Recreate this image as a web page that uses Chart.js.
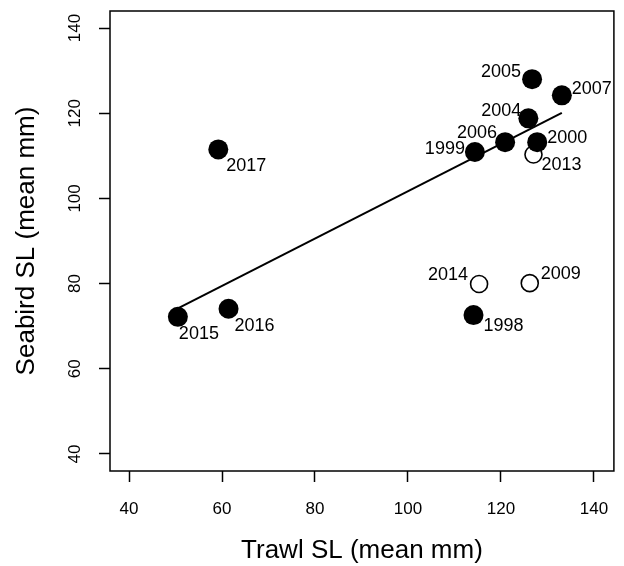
<!DOCTYPE html>
<html>
<head>
<meta charset="utf-8">
<script src="https://cdn.jsdelivr.net/npm/chart.js@4"></script>
<style>
  html, body { margin: 0; padding: 0; background: #fff; }
  #wrap { width: 624px; height: 566px; }
</style>
</head>
<body>
<div id="wrap"><canvas id="scatterChart" width="624" height="566"></canvas></div>
<script>
// years with filled symbols
const solidYears = ["1998", "1999", "2000", "2004", "2005", "2006", "2007", "2015", "2016", "2017"];
const solidTrawl = [114.1, 114.4, 127.8, 125.9, 126.7, 120.9, 133.1, 50.5, 61.4, 59.2];
const solidSeabird = [72.6, 110.9, 113.2, 118.8, 128.0, 113.2, 124.2, 72.2, 74.1, 111.5];

// years with open symbols
const openYears = ["2009", "2013", "2014"];
const openTrawl = [126.2, 127.0, 115.3];
const openSeabird = [80.1, 110.3, 79.9];

// fitted line end points
const fitTrawl = [50.5, 133.1];
const fitSeabird = [74.2, 120.1];

const xTicks = [40, 60, 80, 100, 120, 140];
const yTicks = [40, 60, 80, 100, 120, 140];

// label placement next to each point: [dx, dy, align]
const labelPos = {
  "1998": [10, 11, "left"],
  "1999": [-10, -3, "right"],
  "2000": [10, -4, "left"],
  "2004": [-7, -7, "right"],
  "2005": [-11, -7, "right"],
  "2006": [-8, -9, "right"],
  "2007": [10, -6, "left"],
  "2009": [11, -9, "left"],
  "2013": [8, 10, "left"],
  "2014": [-11, -9, "right"],
  "2015": [1, 17, "left"],
  "2016": [6, 17, "left"],
  "2017": [8, 17, "left"]
};

const FONT = "Liberation Sans, Arial, sans-serif";

function toPoints(xs, ys) {
  return xs.map((x, i) => ({ x: x, y: ys[i] }));
}

const boxPlugin = {
  id: "box",
  afterDraw(chart) {
    const { ctx, chartArea } = chart;
    ctx.save();
    ctx.strokeStyle = "#000";
    ctx.lineWidth = 1.5;
    ctx.strokeRect(chartArea.left, chartArea.top, chartArea.right - chartArea.left, chartArea.bottom - chartArea.top);
    ctx.restore();
  }
};

const yearLabels = {
  id: "yearLabels",
  afterDatasetsDraw(chart) {
    const ctx = chart.ctx;
    ctx.save();
    ctx.fillStyle = "#000";
    ctx.font = "18px " + FONT;
    ctx.textBaseline = "middle";
    chart.data.datasets.forEach((ds, di) => {
      if (!ds.years) return;
      const meta = chart.getDatasetMeta(di);
      meta.data.forEach((pt, i) => {
        const yr = ds.years[i];
        const p = labelPos[yr];
        ctx.textAlign = p[2];
        ctx.fillText(yr, pt.x + p[0], pt.y + p[1]);
      });
    });
    ctx.restore();
  }
};

const ctx = document.getElementById("scatterChart").getContext("2d");
const chart = new Chart(ctx, {
  type: "scatter",
  data: {
    datasets: [
      {
        type: "line",
        data: toPoints(fitTrawl, fitSeabird),
        borderColor: "#000",
        borderWidth: 2,
        pointRadius: 0,
        fill: false,
        order: 3
      },
      {
        years: openYears,
        data: toPoints(openTrawl, openSeabird),
        pointRadius: 8.5,
        pointBackgroundColor: "#fff",
        pointBorderColor: "#000",
        pointBorderWidth: 1.6,
        order: 2
      },
      {
        years: solidYears,
        data: toPoints(solidTrawl, solidSeabird),
        pointRadius: 10,
        pointBackgroundColor: "#000",
        pointBorderColor: "#000",
        pointBorderWidth: 0,
        order: 1
      }
    ]
  },
  plugins: [boxPlugin, yearLabels],
  options: {
    responsive: false,
    animation: false,
    layout: { padding: { left: 0, top: 11, right: 9, bottom: 0 } },
    plugins: {
      legend: { display: false },
      tooltip: { enabled: false }
    },
    scales: {
      x: {
        type: "linear",
        min: 35.9,
        max: 144.3,
        afterFit: s => { s.height = 95; s.paddingLeft = 0; s.paddingRight = 0; },
        afterBuildTicks: s => { s.ticks = xTicks.map(v => ({ value: v })); },
        border: { display: false },
        grid: { drawOnChartArea: false, drawTicks: true, tickLength: 11, tickColor: "#000", tickWidth: 1.5 },
        ticks: { color: "#000", font: { family: FONT, size: 17 }, padding: 17, includeBounds: false },
        title: { display: true, text: "Trawl SL (mean mm)", color: "#000", font: { family: FONT, size: 26, lineHeight: 1 }, padding: { top: 0, bottom: 2 } }
      },
      y: {
        type: "linear",
        min: 36,
        max: 144,
        afterFit: s => { s.width = 110; s.paddingTop = 0; s.paddingBottom = 0; },
        afterBuildTicks: s => { s.ticks = yTicks.map(v => ({ value: v })); },
        border: { display: false },
        grid: { drawOnChartArea: false, drawTicks: true, tickLength: 11, tickColor: "#000", tickWidth: 1.5 },
        ticks: { color: "#000", font: { family: FONT, size: 17 }, padding: 10, minRotation: 90, maxRotation: 90, crossAlign: "center", includeBounds: false },
        title: { display: true, text: "Seabird SL (mean mm)", color: "#000", font: { family: FONT, size: 26, lineHeight: 1 }, padding: { top: 14, bottom: 0 } }
      }
    }
  }
});
</script>
</body>
</html>
